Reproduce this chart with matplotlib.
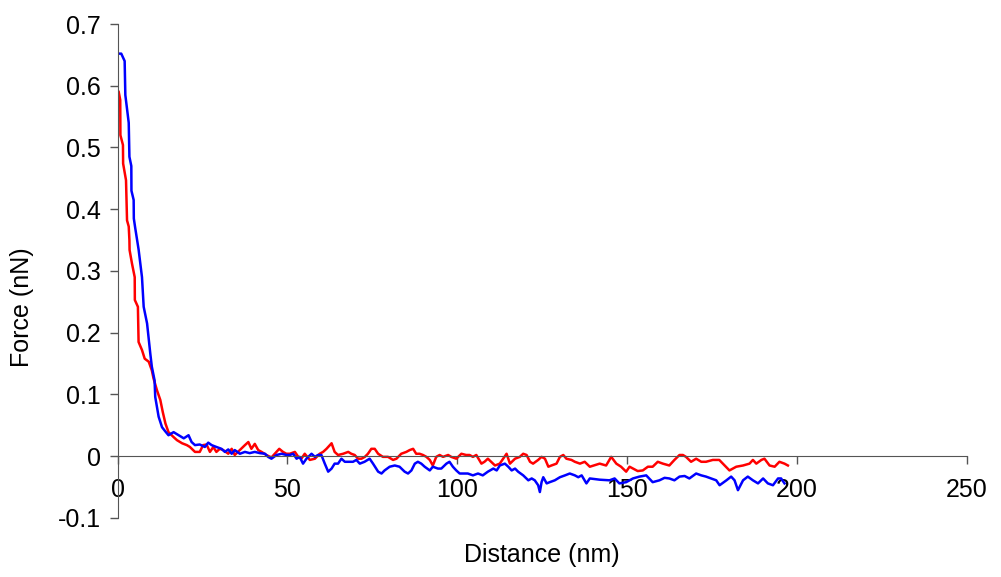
import numpy as np
import matplotlib.pyplot as plt

# distance (nm) / force (nN)
dist_red = [0.35, 0.8, 0.85, 1.6, 1.65, 2.5, 2.8, 3.3, 3.5, 3.55, 4.26, 5.06, 5.1, 6.0, 6.2, 7.2, 8.0, 9.2,
            10.1, 10.6, 11.6, 12.6, 13.3, 14.1, 15.0, 16.5, 17.5, 19.0, 20.4,
            21.3, 22.8, 24.2, 25.2, 26.2, 27.2, 28.2, 29.1, 30.1, 31.1, 32.6, 33.6, 34.5, 36.0, 37.5, 38.5,
            39.4, 40.4, 41.4, 42.4, 43.8, 45.3, 46.8, 47.6, 48.7, 49.7,
            50.7, 52.2, 53.2, 54.1, 55.1, 56.6, 58.1, 59.5, 60.5, 61.5, 62.5, 63.0, 63.9, 64.9, 66.4, 67.9,
            68.8, 69.8, 70.8, 71.8, 72.8, 73.7, 74.7, 75.7, 76.7, 78.1, 79.6,
            81.1, 82.1, 83.5, 85.0, 86.0, 87.0, 87.9, 88.9, 89.9, 90.9, 91.9, 92.8, 93.8, 94.8, 95.8, 97.3,
            98.2, 99.7, 101.2, 102.6, 103.6, 104.6, 105.6, 107.1, 108.0, 109.0,
            111.1, 112.5, 113.5, 114.5, 115.5, 117.0, 118.4, 119.4, 120.4, 121.4, 122.3, 123.8, 124.8, 125.8,
            126.8, 127.7, 129.2, 130.2, 131.2, 132.1, 133.6, 134.6, 136.1, 137.5, 139.0,
            141.9, 143.8, 145.3, 146.8, 148.2, 149.7, 150.7, 151.7, 153.1, 154.6, 156.1, 157.5, 159.0, 160.5,
            162.4, 163.9, 165.4, 166.4, 167.3, 168.8, 170.3, 171.8, 173.2, 175.2, 177.1,
            178.7, 180.1, 182.1, 184.1, 186.0, 187.0, 188.0, 189.5, 190.4, 191.9, 193.4, 194.8, 196.3, 197.3]
force_red = [0.590, 0.577, 0.520, 0.504, 0.474, 0.447, 0.382, 0.372, 0.350, 0.334, 0.312, 0.290, 0.253, 0.242,
             0.185, 0.172, 0.158, 0.153, 0.139, 0.126, 0.107, 0.091, 0.072, 0.053, 0.039, 0.031, 0.026, 0.021, 0.018,
             0.015, 0.007, 0.007, 0.018, 0.019, 0.007, 0.015, 0.007, 0.012, 0.010, 0.004, 0.012, 0.002, 0.010, 0.018,
             0.023, 0.012, 0.020, 0.010, 0.007, 0.002, -0.002, 0.007, 0.012, 0.007, 0.004,
             0.004, 0.007, -0.001, -0.004, 0.004, -0.006, -0.004, 0.004, 0.007, 0.012, 0.018, 0.021, 0.007, 0.002,
             0.004, 0.007, 0.004, 0.002, -0.004, -0.004, -0.001, 0.004, 0.012, 0.012, 0.004, -0.001, -0.001,
             -0.006, -0.004, 0.004, 0.007, 0.010, 0.012, 0.004, 0.004, 0.002, -0.001, -0.006, -0.015, -0.001, 0.002,
             -0.001, 0.002, -0.001, -0.004, 0.004, 0.002, 0.002, -0.001, 0.002, -0.012, -0.009, -0.004,
             -0.015, -0.012, -0.004, 0.004, -0.012, -0.004, -0.001, 0.004, 0.002, -0.009, -0.012, -0.006, -0.001,
             -0.004, -0.017, -0.015, -0.012, -0.001, 0.002, -0.004, -0.006, -0.009, -0.012, -0.009, -0.017,
             -0.012, -0.015, -0.001, -0.012, -0.017, -0.025, -0.017, -0.020, -0.024, -0.023, -0.017, -0.017, -0.009,
             -0.012, -0.015, -0.006, 0.002, 0.002, -0.001, -0.009, -0.004, -0.009, -0.009, -0.006, -0.006,
             -0.015, -0.023, -0.017, -0.015, -0.012, -0.006, -0.012, -0.006, -0.004, -0.015, -0.017, -0.009, -0.012,
             -0.015]

dist_blue = [0.35, 1.1, 2.1, 2.3, 3.3, 3.5, 4.06, 4.1, 4.75, 4.8, 5.2, 6.2, 7.2, 7.7, 8.7, 9.65, 10.1, 10.9,
             11.1, 12.1, 13.1, 14.1, 15.0, 16.5, 18.0, 19.5, 20.9,
             21.8, 22.8, 24.2, 25.7, 26.7, 27.7, 29.1, 30.6, 31.6, 32.6, 33.6, 34.5, 36.0, 37.5, 38.9, 40.4,
             41.9, 43.4, 44.3, 45.3, 46.8, 48.3, 49.7,
             50.7, 51.7, 52.7, 53.6, 54.6, 55.6, 57.1, 58.1, 59.0, 60.0, 61.0, 62.0, 63.0, 63.9, 64.9, 65.9,
             66.9, 67.9, 69.3, 70.3, 71.3, 72.7, 74.2, 75.2, 76.7, 77.7, 78.6, 80.1,
             81.6, 83.0, 84.5, 85.5, 86.5, 87.5, 88.4, 89.4, 90.4, 91.9, 92.8, 94.3, 95.3, 96.8, 97.7, 98.7,
             99.7, 100.7, 101.7, 103.1, 104.6, 106.1, 107.5, 109.0,
             110.6, 111.6, 112.5, 114.0, 115.0, 116.0, 117.0, 117.9, 119.4, 120.9, 121.9, 122.8, 123.8, 124.3,
             124.8, 125.3, 126.3, 127.2, 128.7, 130.2, 131.7, 133.1, 134.6, 135.6, 136.6, 138.0, 139.0,
             141.9, 144.8, 146.3, 147.7, 149.7, 151.7, 153.6, 155.6, 157.5, 159.5, 161.0, 162.4, 163.9, 165.4,
             166.9, 168.3, 170.3, 171.8, 173.2, 174.7, 176.2,
             177.2, 179.2, 180.6, 181.6, 182.6, 184.1, 185.5, 187.0, 188.5, 190.0, 191.4, 192.9, 194.4, 195.3, 196.3]
force_blue = [0.652, 0.652, 0.640, 0.585, 0.540, 0.485, 0.470, 0.430, 0.415, 0.385, 0.370, 0.335, 0.290, 0.242,
              0.215, 0.166, 0.145, 0.123, 0.096, 0.064, 0.047, 0.040, 0.034, 0.039, 0.034, 0.029, 0.034,
              0.023, 0.018, 0.019, 0.015, 0.022, 0.018, 0.015, 0.012, 0.007, 0.011, 0.004, 0.010, 0.004, 0.007,
              0.005, 0.007, 0.005, 0.004, -0.001, -0.004, 0.002, 0.004, 0.002,
              0.002, 0.004, -0.004, -0.001, -0.012, -0.004, 0.004, -0.001, 0.002, 0.002, -0.012, -0.025, -0.020,
              -0.012, -0.012, -0.004, -0.009, -0.009, -0.009, -0.006, -0.012, -0.009, -0.004, -0.012, -0.025,
              -0.028, -0.023, -0.017,
              -0.015, -0.017, -0.025, -0.028, -0.023, -0.012, -0.009, -0.012, -0.017, -0.023, -0.017, -0.020,
              -0.020, -0.012, -0.009, -0.017, -0.023, -0.028, -0.028, -0.028, -0.031, -0.028, -0.031, -0.025,
              -0.020, -0.023, -0.015, -0.012, -0.017, -0.023, -0.020, -0.025, -0.031, -0.039, -0.036, -0.039,
              -0.047, -0.058, -0.042, -0.034, -0.044, -0.042, -0.039, -0.034, -0.031, -0.028, -0.031, -0.034,
              -0.031, -0.044, -0.036,
              -0.038, -0.039, -0.036, -0.044, -0.042, -0.036, -0.033, -0.031, -0.042, -0.039, -0.035, -0.036,
              -0.039, -0.033, -0.032, -0.036, -0.028, -0.031, -0.033, -0.036, -0.039,
              -0.047, -0.039, -0.033, -0.039, -0.055, -0.039, -0.033, -0.039, -0.044, -0.036, -0.044, -0.047,
              -0.036, -0.036, -0.044]

x_ticks = [0, 50, 100, 150, 200, 250]
y_ticks = [-0.1, 0, 0.1, 0.2, 0.3, 0.4, 0.5, 0.6, 0.7]
y_labels = ['-0.1', '0', '0.1', '0.2', '0.3', '0.4', '0.5', '0.6', '0.7']

plt.rcParams['font.family'] = ['Liberation Sans', 'DejaVu Sans']

fig = plt.figure(figsize=(10.01, 5.77), dpi=100)
ax = fig.add_axes([0.1174, 0.1023, 0.8486, 0.8561])

ax.plot(dist_red, force_red, color='#ff0000', lw=1.8)
ax.plot(dist_blue, force_blue, color='#0000ff', lw=1.8)

ax.set_xlim(0, 250)
ax.set_ylim(-0.1, 0.7)
ax.set_xticks(x_ticks)
ax.set_yticks(y_ticks)
ax.set_yticklabels(y_labels)

ax.spines['top'].set_visible(False)
ax.spines['right'].set_visible(False)
ax.spines['bottom'].set_position(('data', 0))
ax.spines['bottom'].set_color('#555555')
ax.spines['left'].set_color('#555555')
ax.tick_params(axis='both', direction='out', length=6, width=1, color='#555555',
               labelsize=18, labelcolor='black')
ax.tick_params(axis='y', pad=6)
ax.tick_params(axis='x', pad=10)

fig.text(0.5415, 0.038, 'Distance (nm)', ha='center', va='center', fontsize=18)
fig.text(0.022, 0.468, 'Force (nN)', ha='center', va='center', rotation=90, fontsize=18)

fig.savefig('out.png', dpi=100)
